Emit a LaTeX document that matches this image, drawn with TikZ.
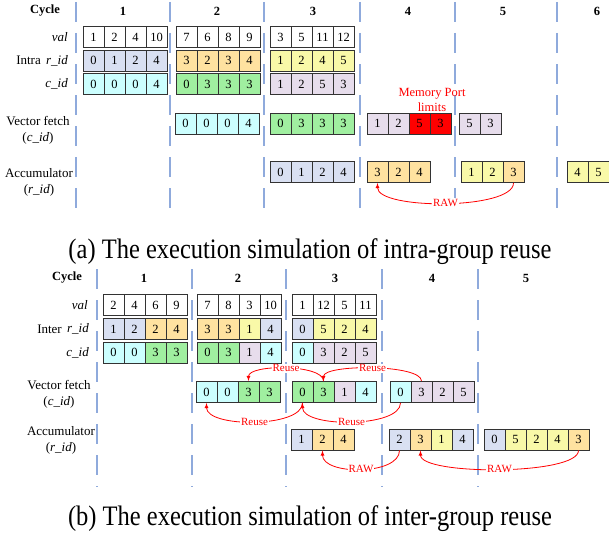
\documentclass[tikz,border=0pt]{standalone}
\usepackage{fontspec}
\setmainfont{Liberation Serif}
\usetikzlibrary{arrows}
\definecolor{rblue}{HTML}{D9E0F2}
\definecolor{ccyan}{HTML}{CCFFFF}
\definecolor{rorange}{HTML}{FFE2A0}
\definecolor{cgreen}{HTML}{A0EFA0}
\definecolor{ryellow}{HTML}{F9F9A8}
\definecolor{cpink}{HTML}{E7DDEC}
\definecolor{sepblue}{HTML}{8FAADC}
\tikzstyle{cell}=[draw=black!80, line width=0.9pt, minimum width=21pt, minimum height=21pt, inner sep=0pt, font=\fontsize{12.5}{14}\selectfont]
\tikzstyle{sep}=[draw=sepblue, line width=2.7pt, dash pattern=on 20pt off 11pt]
\tikzstyle{head}=[inner sep=0pt, font=\fontsize{12.5}{14}\selectfont\bfseries]
\tikzstyle{lab}=[inner sep=0pt, align=center, font=\fontsize{13}{16}\selectfont]
\tikzstyle{dep}=[red, line width=0.8pt, -latex]
\tikzstyle{deplabel}=[fill=white, inner sep=1pt, text=red, font=\fontsize{11}{12}\selectfont]
\tikzstyle{captext}=[inner sep=0pt, anchor=base, font=\fontsize{24.5}{26}\selectfont]
\newcommand{\cellrow}[4]{%
  \foreach \v/\c [count=\i] in {#4}
    \node[cell, fill=\c] (#1\i) at ({#2+(\i-0.5)*21}, #3) {\v};
}

\begin{document}
\begin{tikzpicture}[x=1pt, y=-1pt]
  \useasboundingbox (0,0) rectangle (609,535);

  % (a) intra-group reuse
  \foreach \x in {76,170,264,360,455,557}
    \draw[sep] (\x,2) -- (\x,218);
  \node[head] (cyca) at (45,11) {Cycle};
  \foreach \x/\n in {123/1,217/2,313/3,408/4,503/5,597/6}
    \node[head] (cyca\n) at (\x,11) {\n};
  \node[lab, anchor=east] (vala) at (68,37) {\textit{val}};
  \node[lab, anchor=east] (intra) at (41,60.5) {Intra};
  \node[lab, anchor=east] (rida) at (68,60.5) {\textit{r\_id}};
  \node[lab, anchor=east] (cida) at (68,84) {\textit{c\_id}};
  \node[lab] (fetcha) at (38,130.5) {Vector fetch\\(\textit{c\_id})};
  \node[lab] (acca) at (39,182.5) {Accumulator\\(\textit{r\_id})};

  \cellrow{av1-}{83}{37}{1/white,2/white,4/white,10/white}
  \cellrow{ar1-}{83}{60.5}{0/rblue,1/rblue,2/rblue,4/rblue}
  \cellrow{ac1-}{83}{84}{0/ccyan,0/ccyan,0/ccyan,4/ccyan}
  \cellrow{av2-}{176}{37}{7/white,6/white,8/white,9/white}
  \cellrow{ar2-}{176}{60.5}{3/rorange,2/rorange,3/rorange,4/rorange}
  \cellrow{ac2-}{176}{84}{0/cgreen,3/cgreen,3/cgreen,3/cgreen}
  \cellrow{av3-}{270}{37}{3/white,5/white,11/white,12/white}
  \cellrow{ar3-}{270}{60.5}{1/ryellow,2/ryellow,4/ryellow,5/ryellow}
  \cellrow{ac3-}{270}{84}{1/cpink,2/cpink,5/cpink,3/cpink}

  \cellrow{af2-}{175}{123.5}{0/ccyan,0/ccyan,0/ccyan,4/ccyan}
  \cellrow{af3-}{270}{123.5}{0/cgreen,3/cgreen,3/cgreen,3/cgreen}
  \cellrow{af4-}{367}{123.5}{1/cpink,2/cpink,5/red,3/red}
  \cellrow{af5-}{459}{123.5}{5/cpink,3/cpink}
  \node[lab, text=red, font=\fontsize{12.5}{15}\selectfont] (port) at (432,100) {Memory Port\\limits};

  \cellrow{aa3-}{270}{172}{0/rblue,1/rblue,2/rblue,4/rblue}
  \cellrow{aa4-}{367}{172}{3/rorange,2/rorange,4/rorange}
  \cellrow{aa5-}{461}{172}{1/ryellow,2/ryellow,3/rorange}
  \cellrow{aa6-}{567}{172}{4/ryellow,5/ryellow}
  \draw[dep] (aa5-3.south) .. controls +(0,27) and +(0,27) .. (aa4-1.south)
    node[deplabel, pos=0.5] {RAW};

  \node[captext] (capa) at (310,258) {\scalebox{1}[1.15]{(a) The execution simulation of intra-group reuse}};

  % (b) inter-group reuse
  \foreach \x in {97,192,286,382,478}
    \draw[sep] (\x,269) -- (\x,487);
  \node[head] (cycb) at (67,278) {Cycle};
  \foreach \x/\n in {144/1,238/2,335/3,432/4,526/5}
    \node[head] (cycb\n) at (\x,278) {\n};
  \node[lab, anchor=east] (valb) at (88,305) {\textit{val}};
  \node[lab, anchor=east] (inter) at (62,329) {Inter};
  \node[lab, anchor=east] (ridb) at (89,329) {\textit{r\_id}};
  \node[lab, anchor=east] (cidb) at (89,352.5) {\textit{c\_id}};
  \node[lab] (fetchb) at (59,394.5) {Vector fetch\\(\textit{c\_id})};
  \node[lab] (accb) at (61,440.5) {Accumulator\\(\textit{r\_id})};

  \cellrow{bv1-}{103}{305}{2/white,4/white,6/white,9/white}
  \cellrow{br1-}{103}{329}{1/rblue,2/rblue,2/rorange,4/rorange}
  \cellrow{bc1-}{103}{352.5}{0/ccyan,0/ccyan,3/cgreen,3/cgreen}
  \cellrow{bv2-}{197}{305}{7/white,8/white,3/white,10/white}
  \cellrow{br2-}{197}{329}{3/rorange,3/rorange,1/ryellow,4/rblue}
  \cellrow{bc2-}{197}{352.5}{0/cgreen,3/cgreen,1/cpink,4/ccyan}
  \cellrow{bv3-}{292}{305}{1/white,12/white,5/white,11/white}
  \cellrow{br3-}{292}{329}{0/rblue,5/ryellow,2/ryellow,4/ryellow}
  \cellrow{bc3-}{292}{352.5}{0/ccyan,3/cpink,2/cpink,5/cpink}

  \cellrow{bf2-}{196}{392}{0/ccyan,0/ccyan,3/cgreen,3/cgreen}
  \cellrow{bf3-}{292}{392}{0/cgreen,3/cgreen,1/cpink,4/ccyan}
  \cellrow{bf4-}{390}{392}{0/ccyan,3/cpink,2/cpink,5/cpink}
  \draw[dep] (bf3-2.north) .. controls +(0,-17) and +(0,-17) .. (bf2-3.north)
    node[deplabel, pos=0.5] {Reuse};
  \draw[dep] (bf4-2.north) .. controls +(0,-17) and +(0,-17) .. (bf3-2.north)
    node[deplabel, pos=0.5] {Reuse};
  \draw[dep] (bf3-1.south) .. controls +(0,25) and +(0,25) .. (bf2-1.south)
    node[deplabel, pos=0.5] {Reuse};
  \draw[dep] (bf4-1.south) .. controls +(0,25) and +(0,25) .. (bf3-1.south)
    node[deplabel, pos=0.5] {Reuse};

  \cellrow{ba3-}{291}{439.5}{1/rblue,2/rorange,4/rorange}
  \cellrow{ba4-}{389}{439.5}{2/rblue,3/rorange,1/ryellow,4/rblue}
  \cellrow{ba5-}{484}{439.5}{0/rblue,5/ryellow,2/ryellow,4/ryellow,3/rorange}
  \draw[dep] (ba4-1.south) .. controls +(0,25) and +(0,25) .. (ba3-2.south)
    node[deplabel, pos=0.5] {RAW};
  \draw[dep] (ba5-5.south) .. controls +(0,25) and +(0,25) .. (ba4-2.south)
    node[deplabel, pos=0.5] {RAW};

  \node[captext] (capb) at (310,525) {\scalebox{1}[1.15]{(b) The execution simulation of inter-group reuse}};
\end{tikzpicture}
\end{document}
